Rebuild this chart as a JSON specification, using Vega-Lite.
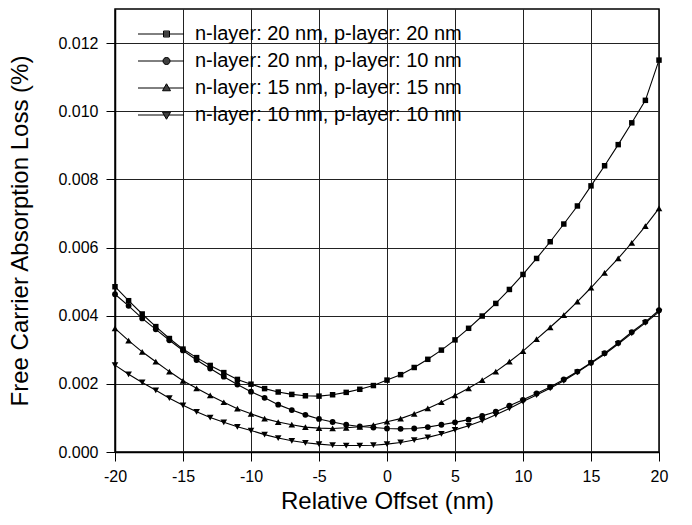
{
  "$schema": "https://vega.github.io/schema/vega-lite/v6.json",
  "width": 544,
  "height": 443,
  "autosize": "none",
  "padding": {"left": 115, "top": 9, "right": 33, "bottom": 73},
  "background": "white",
  "config": {
    "font": "Liberation Sans",
    "view": {"stroke": "black", "strokeWidth": 1.5},
    "axis": {
      "grid": true,
      "gridColor": "#222222",
      "gridWidth": 1,
      "gridOpacity": 1,
      "domainColor": "black",
      "domainWidth": 1.5,
      "tickColor": "black",
      "tickSize": 9,
      "tickWidth": 1,
      "labelColor": "black",
      "labelFontSize": 16,
      "labelFont": "Liberation Sans",
      "labelOverlap": false,
      "labelFlush": false,
      "labelBound": false,
      "titleColor": "black",
      "titleFont": "Liberation Sans",
      "titleFontSize": 24,
      "titleFontWeight": "normal"
    }
  },
  "data": {
    "values": [
      {"x": -20, "n-layer: 20 nm, p-layer: 20 nm": 0.00485, "n-layer: 20 nm, p-layer: 10 nm": 0.00463, "n-layer: 15 nm, p-layer: 15 nm": 0.00363, "n-layer: 10 nm, p-layer: 10 nm": 0.00255},
      {"x": -19, "n-layer: 20 nm, p-layer: 20 nm": 0.00444, "n-layer: 20 nm, p-layer: 10 nm": 0.00429, "n-layer: 15 nm, p-layer: 15 nm": 0.00327, "n-layer: 10 nm, p-layer: 10 nm": 0.00228},
      {"x": -18, "n-layer: 20 nm, p-layer: 20 nm": 0.00405, "n-layer: 20 nm, p-layer: 10 nm": 0.00392, "n-layer: 15 nm, p-layer: 15 nm": 0.00294, "n-layer: 10 nm, p-layer: 10 nm": 0.00204},
      {"x": -17, "n-layer: 20 nm, p-layer: 20 nm": 0.00368, "n-layer: 20 nm, p-layer: 10 nm": 0.0036, "n-layer: 15 nm, p-layer: 15 nm": 0.00265, "n-layer: 10 nm, p-layer: 10 nm": 0.00181},
      {"x": -16, "n-layer: 20 nm, p-layer: 20 nm": 0.00333, "n-layer: 20 nm, p-layer: 10 nm": 0.00328, "n-layer: 15 nm, p-layer: 15 nm": 0.00236, "n-layer: 10 nm, p-layer: 10 nm": 0.00158},
      {"x": -15, "n-layer: 20 nm, p-layer: 20 nm": 0.00302, "n-layer: 20 nm, p-layer: 10 nm": 0.00298, "n-layer: 15 nm, p-layer: 15 nm": 0.00209, "n-layer: 10 nm, p-layer: 10 nm": 0.00137},
      {"x": -14, "n-layer: 20 nm, p-layer: 20 nm": 0.00277, "n-layer: 20 nm, p-layer: 10 nm": 0.0027, "n-layer: 15 nm, p-layer: 15 nm": 0.00187, "n-layer: 10 nm, p-layer: 10 nm": 0.00118},
      {"x": -13, "n-layer: 20 nm, p-layer: 20 nm": 0.00254, "n-layer: 20 nm, p-layer: 10 nm": 0.00245, "n-layer: 15 nm, p-layer: 15 nm": 0.00166, "n-layer: 10 nm, p-layer: 10 nm": 0.00101},
      {"x": -12, "n-layer: 20 nm, p-layer: 20 nm": 0.00233, "n-layer: 20 nm, p-layer: 10 nm": 0.00221, "n-layer: 15 nm, p-layer: 15 nm": 0.00146, "n-layer: 10 nm, p-layer: 10 nm": 0.00087},
      {"x": -11, "n-layer: 20 nm, p-layer: 20 nm": 0.00213, "n-layer: 20 nm, p-layer: 10 nm": 0.00198, "n-layer: 15 nm, p-layer: 15 nm": 0.00127, "n-layer: 10 nm, p-layer: 10 nm": 0.00074},
      {"x": -10, "n-layer: 20 nm, p-layer: 20 nm": 0.00199, "n-layer: 20 nm, p-layer: 10 nm": 0.00177, "n-layer: 15 nm, p-layer: 15 nm": 0.00112, "n-layer: 10 nm, p-layer: 10 nm": 0.00063},
      {"x": -9, "n-layer: 20 nm, p-layer: 20 nm": 0.00186, "n-layer: 20 nm, p-layer: 10 nm": 0.00159, "n-layer: 15 nm, p-layer: 15 nm": 0.00098, "n-layer: 10 nm, p-layer: 10 nm": 0.00051},
      {"x": -8, "n-layer: 20 nm, p-layer: 20 nm": 0.00176, "n-layer: 20 nm, p-layer: 10 nm": 0.00139, "n-layer: 15 nm, p-layer: 15 nm": 0.00088, "n-layer: 10 nm, p-layer: 10 nm": 0.00041},
      {"x": -7, "n-layer: 20 nm, p-layer: 20 nm": 0.00169, "n-layer: 20 nm, p-layer: 10 nm": 0.00123, "n-layer: 15 nm, p-layer: 15 nm": 0.0008, "n-layer: 10 nm, p-layer: 10 nm": 0.00033},
      {"x": -6, "n-layer: 20 nm, p-layer: 20 nm": 0.00165, "n-layer: 20 nm, p-layer: 10 nm": 0.00109, "n-layer: 15 nm, p-layer: 15 nm": 0.00073, "n-layer: 10 nm, p-layer: 10 nm": 0.00027},
      {"x": -5, "n-layer: 20 nm, p-layer: 20 nm": 0.00164, "n-layer: 20 nm, p-layer: 10 nm": 0.00097, "n-layer: 15 nm, p-layer: 15 nm": 0.0007, "n-layer: 10 nm, p-layer: 10 nm": 0.00023},
      {"x": -4, "n-layer: 20 nm, p-layer: 20 nm": 0.00168, "n-layer: 20 nm, p-layer: 10 nm": 0.00088, "n-layer: 15 nm, p-layer: 15 nm": 0.00069, "n-layer: 10 nm, p-layer: 10 nm": 0.0002},
      {"x": -3, "n-layer: 20 nm, p-layer: 20 nm": 0.00175, "n-layer: 20 nm, p-layer: 10 nm": 0.0008, "n-layer: 15 nm, p-layer: 15 nm": 0.00071, "n-layer: 10 nm, p-layer: 10 nm": 0.00019},
      {"x": -2, "n-layer: 20 nm, p-layer: 20 nm": 0.00184, "n-layer: 20 nm, p-layer: 10 nm": 0.00075, "n-layer: 15 nm, p-layer: 15 nm": 0.00074, "n-layer: 10 nm, p-layer: 10 nm": 0.00019},
      {"x": -1, "n-layer: 20 nm, p-layer: 20 nm": 0.00195, "n-layer: 20 nm, p-layer: 10 nm": 0.00072, "n-layer: 15 nm, p-layer: 15 nm": 0.00079, "n-layer: 10 nm, p-layer: 10 nm": 0.0002},
      {"x": 0, "n-layer: 20 nm, p-layer: 20 nm": 0.00211, "n-layer: 20 nm, p-layer: 10 nm": 0.00069, "n-layer: 15 nm, p-layer: 15 nm": 0.00089, "n-layer: 10 nm, p-layer: 10 nm": 0.00023},
      {"x": 1, "n-layer: 20 nm, p-layer: 20 nm": 0.00227, "n-layer: 20 nm, p-layer: 10 nm": 0.00068, "n-layer: 15 nm, p-layer: 15 nm": 0.00098, "n-layer: 10 nm, p-layer: 10 nm": 0.00028},
      {"x": 2, "n-layer: 20 nm, p-layer: 20 nm": 0.00248, "n-layer: 20 nm, p-layer: 10 nm": 0.00069, "n-layer: 15 nm, p-layer: 15 nm": 0.00112, "n-layer: 10 nm, p-layer: 10 nm": 0.00035},
      {"x": 3, "n-layer: 20 nm, p-layer: 20 nm": 0.00272, "n-layer: 20 nm, p-layer: 10 nm": 0.00073, "n-layer: 15 nm, p-layer: 15 nm": 0.00128, "n-layer: 10 nm, p-layer: 10 nm": 0.00043},
      {"x": 4, "n-layer: 20 nm, p-layer: 20 nm": 0.00299, "n-layer: 20 nm, p-layer: 10 nm": 0.0008, "n-layer: 15 nm, p-layer: 15 nm": 0.00146, "n-layer: 10 nm, p-layer: 10 nm": 0.00053},
      {"x": 5, "n-layer: 20 nm, p-layer: 20 nm": 0.00329, "n-layer: 20 nm, p-layer: 10 nm": 0.00087, "n-layer: 15 nm, p-layer: 15 nm": 0.00166, "n-layer: 10 nm, p-layer: 10 nm": 0.00065},
      {"x": 6, "n-layer: 20 nm, p-layer: 20 nm": 0.00363, "n-layer: 20 nm, p-layer: 10 nm": 0.00095, "n-layer: 15 nm, p-layer: 15 nm": 0.00187, "n-layer: 10 nm, p-layer: 10 nm": 0.00077},
      {"x": 7, "n-layer: 20 nm, p-layer: 20 nm": 0.00399, "n-layer: 20 nm, p-layer: 10 nm": 0.00106, "n-layer: 15 nm, p-layer: 15 nm": 0.00211, "n-layer: 10 nm, p-layer: 10 nm": 0.00092},
      {"x": 8, "n-layer: 20 nm, p-layer: 20 nm": 0.00436, "n-layer: 20 nm, p-layer: 10 nm": 0.00118, "n-layer: 15 nm, p-layer: 15 nm": 0.00236, "n-layer: 10 nm, p-layer: 10 nm": 0.00109},
      {"x": 9, "n-layer: 20 nm, p-layer: 20 nm": 0.00477, "n-layer: 20 nm, p-layer: 10 nm": 0.00136, "n-layer: 15 nm, p-layer: 15 nm": 0.00265, "n-layer: 10 nm, p-layer: 10 nm": 0.00128},
      {"x": 10, "n-layer: 20 nm, p-layer: 20 nm": 0.00521, "n-layer: 20 nm, p-layer: 10 nm": 0.00153, "n-layer: 15 nm, p-layer: 15 nm": 0.00296, "n-layer: 10 nm, p-layer: 10 nm": 0.00148},
      {"x": 11, "n-layer: 20 nm, p-layer: 20 nm": 0.00568, "n-layer: 20 nm, p-layer: 10 nm": 0.00172, "n-layer: 15 nm, p-layer: 15 nm": 0.00331, "n-layer: 10 nm, p-layer: 10 nm": 0.00167},
      {"x": 12, "n-layer: 20 nm, p-layer: 20 nm": 0.00617, "n-layer: 20 nm, p-layer: 10 nm": 0.00191, "n-layer: 15 nm, p-layer: 15 nm": 0.00366, "n-layer: 10 nm, p-layer: 10 nm": 0.00187},
      {"x": 13, "n-layer: 20 nm, p-layer: 20 nm": 0.00669, "n-layer: 20 nm, p-layer: 10 nm": 0.00213, "n-layer: 15 nm, p-layer: 15 nm": 0.00402, "n-layer: 10 nm, p-layer: 10 nm": 0.00209},
      {"x": 14, "n-layer: 20 nm, p-layer: 20 nm": 0.00722, "n-layer: 20 nm, p-layer: 10 nm": 0.00236, "n-layer: 15 nm, p-layer: 15 nm": 0.00441, "n-layer: 10 nm, p-layer: 10 nm": 0.00234},
      {"x": 15, "n-layer: 20 nm, p-layer: 20 nm": 0.00781, "n-layer: 20 nm, p-layer: 10 nm": 0.00262, "n-layer: 15 nm, p-layer: 15 nm": 0.00482, "n-layer: 10 nm, p-layer: 10 nm": 0.0026},
      {"x": 16, "n-layer: 20 nm, p-layer: 20 nm": 0.0084, "n-layer: 20 nm, p-layer: 10 nm": 0.0029, "n-layer: 15 nm, p-layer: 15 nm": 0.00526, "n-layer: 10 nm, p-layer: 10 nm": 0.00287},
      {"x": 17, "n-layer: 20 nm, p-layer: 20 nm": 0.00902, "n-layer: 20 nm, p-layer: 10 nm": 0.0032, "n-layer: 15 nm, p-layer: 15 nm": 0.00568, "n-layer: 10 nm, p-layer: 10 nm": 0.00317},
      {"x": 18, "n-layer: 20 nm, p-layer: 20 nm": 0.00966, "n-layer: 20 nm, p-layer: 10 nm": 0.00352, "n-layer: 15 nm, p-layer: 15 nm": 0.00614, "n-layer: 10 nm, p-layer: 10 nm": 0.00348},
      {"x": 19, "n-layer: 20 nm, p-layer: 20 nm": 0.01032, "n-layer: 20 nm, p-layer: 10 nm": 0.00382, "n-layer: 15 nm, p-layer: 15 nm": 0.00663, "n-layer: 10 nm, p-layer: 10 nm": 0.00379},
      {"x": 20, "n-layer: 20 nm, p-layer: 20 nm": 0.0115, "n-layer: 20 nm, p-layer: 10 nm": 0.00416, "n-layer: 15 nm, p-layer: 15 nm": 0.00715, "n-layer: 10 nm, p-layer: 10 nm": 0.00411}
    ]
  },
  "transform": [
    {"fold": ["n-layer: 20 nm, p-layer: 20 nm", "n-layer: 20 nm, p-layer: 10 nm", "n-layer: 15 nm, p-layer: 15 nm", "n-layer: 10 nm, p-layer: 10 nm"], "as": ["series", "y"]}
  ],
  "encoding": {
    "x": {
      "field": "x",
      "type": "quantitative",
      "scale": {"domain": [-20, 20], "nice": false},
      "axis": {"title": "Relative Offset (nm)", "values": [-20, -15, -10, -5, 0, 5, 10, 15, 20], "labelExpr": "'' + datum.value", "labelPadding": 7, "titlePadding": 5}
    },
    "y": {
      "field": "y",
      "type": "quantitative",
      "scale": {"domain": [0, 0.013], "nice": false},
      "axis": {"title": "Free Carrier Absorption Loss (%)", "values": [0, 0.002, 0.004, 0.006, 0.008, 0.01, 0.012], "format": ".3f", "labelPadding": 8, "titlePadding": 25}
    }
  },
  "layer": [
    {
      "mark": {"type": "line", "color": "black", "strokeWidth": 1.1},
      "encoding": {"detail": {"field": "series", "type": "nominal"}}
    },
    {
      "transform": [{"filter": {"field": "series", "equal": "n-layer: 20 nm, p-layer: 20 nm"}}],
      "mark": {"type": "point", "shape": "square", "filled": true, "color": "black", "size": 30, "opacity": 1}
    },
    {
      "transform": [{"filter": {"field": "series", "equal": "n-layer: 20 nm, p-layer: 10 nm"}}],
      "mark": {"type": "point", "shape": "circle", "filled": true, "color": "black", "size": 34, "opacity": 1}
    },
    {
      "transform": [{"filter": {"field": "series", "equal": "n-layer: 15 nm, p-layer: 15 nm"}}],
      "mark": {"type": "point", "shape": "triangle-up", "filled": true, "color": "black", "size": 44, "opacity": 1}
    },
    {
      "transform": [{"filter": {"field": "series", "equal": "n-layer: 10 nm, p-layer: 10 nm"}}],
      "mark": {"type": "point", "shape": "triangle-down", "filled": true, "color": "black", "size": 44, "opacity": 1}
    },
    {
      "mark": {"type": "point", "filled": false, "color": "black", "strokeWidth": 1, "size": 100, "opacity": 0},
      "encoding": {
        "shape": {
          "field": "series",
          "type": "nominal",
          "scale": {
            "domain": ["n-layer: 20 nm, p-layer: 20 nm", "n-layer: 20 nm, p-layer: 10 nm", "n-layer: 15 nm, p-layer: 15 nm", "n-layer: 10 nm, p-layer: 10 nm"],
            "range": [
              "M-3,0H6.2M2.1,-0.6H3.3V0.6H2.1ZM2.1,-0.4H3.3M2.1,-0.2H3.3M2.1,0.2H3.3M2.1,0.4H3.3",
              "M-3,0H6.2M2,0A0.7,0.7 0 1,0 3.4,0A0.7,0.7 0 1,0 2,0ZM2.03,-0.2H3.37M2.03,0.2H3.37M2.13,-0.4H3.27M2.13,0.4H3.27M2.34,-0.6H3.06M2.34,0.6H3.06",
              "M-3,0H6.2M2.7,-0.85L3.5,0.55H1.9ZM2.56,-0.6H2.84M2.44,-0.4H2.96M2.33,-0.2H3.07M2.1,0.2H3.3M1.99,0.4H3.41",
              "M-3,0H6.2M2.7,0.85L3.5,-0.55H1.9ZM2.56,0.6H2.84M2.44,0.4H2.96M2.33,0.2H3.07M2.1,-0.2H3.3M1.99,-0.4H3.41"
            ]
          },
          "legend": {
            "title": null,
            "orient": "none",
            "legendX": 28,
            "legendY": 15,
            "padding": 0,
            "symbolSize": 100,
            "symbolOpacity": 1,
            "symbolStrokeColor": "black",
            "symbolStrokeWidth": 1,
            "labelFontSize": 20,
            "labelColor": "black",
            "labelFont": "Liberation Sans",
            "labelOffset": 32,
            "labelLimit": 400,
            "rowPadding": 7
          }
        }
      }
    }
  ]
}
